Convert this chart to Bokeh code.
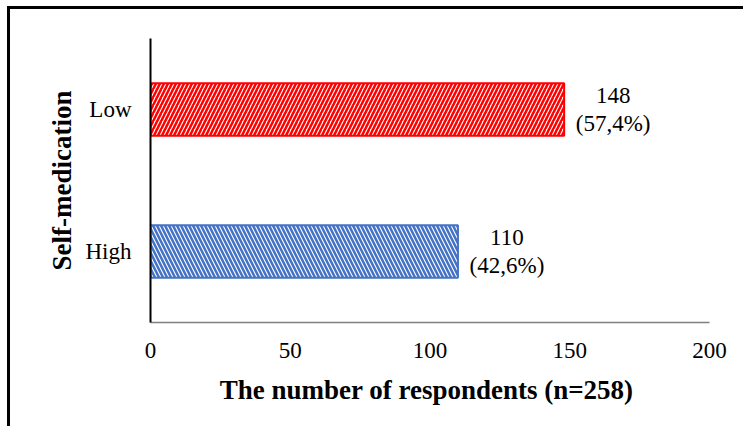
from bokeh.plotting import figure
from bokeh.models import ColumnDataSource, FixedTicker, FactorRange, Range1d
from bokeh.core.properties import value
from bokeh.embed import file_html
from bokeh.resources import INLINE

categories = ["High", "Low"]
counts = [110, 148]
percents = ["42,6%", "57,4%"]
bar_colors = ["#4472C4", "#FF0000"]
hatches = ["left_diagonal_line", "right_diagonal_line"]
x_ticks = [0, 50, 100, 150, 200]

labels = [f"{c}\n({p})" for c, p in zip(counts, percents)]
src = ColumnDataSource(dict(cat=categories, cnt=counts, col=bar_colors,
                            hatch=hatches, lab=labels))

p = figure(width=736, height=420, output_backend="svg", toolbar_location=None,
           y_range=FactorRange(*categories, range_padding=0),
           x_range=Range1d(0, 200),
           min_border_left=140, min_border_right=37, min_border_top=29,
           min_border_bottom=107)
p.styles = {"margin-left": "7px", "margin-top": "6px",
            "border-top": "3px solid black", "border-left": "3px solid black"}
p.outline_line_color = None
p.xgrid.grid_line_color = None
p.ygrid.grid_line_color = None

p.hbar(y="cat", right="cnt", left=0, height=0.37, source=src,
       fill_color="white", line_color="col", line_width=2,
       hatch_pattern="hatch", hatch_color="col", hatch_scale=8, hatch_weight=2.5)

p.text(x="cnt", y="cat", text="lab", source=src, x_offset=49,
       text_align="center", text_baseline="middle",
       text_font=value("Liberation Serif"), text_font_size="23px",
       text_color="black", text_line_height=1.15)

xa = p.xaxis[0]
xa.ticker = FixedTicker(ticks=x_ticks)
xa.axis_line_color = "#7f7f7f"
xa.axis_line_width = 1.5
xa.major_tick_line_color = None
xa.minor_tick_line_color = None
xa.major_label_text_font = "Liberation Serif"
xa.major_label_text_font_size = "23px"
xa.major_label_text_color = "black"
xa.major_label_standoff = 14
xa.axis_label = "The number  of respondents (n=258)"
xa.axis_label_text_font = "Liberation Serif"
xa.axis_label_text_font_style = "bold"
xa.axis_label_text_font_size = "27px"
xa.axis_label_text_color = "black"
xa.axis_label_standoff = 14

ya = p.yaxis[0]
ya.axis_line_color = "black"
ya.axis_line_width = 2
ya.major_tick_line_color = None
ya.minor_tick_line_color = None
ya.major_label_text_font = "Liberation Serif"
ya.major_label_text_font_size = "23px"
ya.major_label_text_color = "black"
ya.major_label_standoff = 13
ya.axis_label = "Self-medication"
ya.axis_label_text_font = "Liberation Serif"
ya.axis_label_text_font_style = "bold"
ya.axis_label_text_font_size = "27px"
ya.axis_label_text_color = "black"
ya.axis_label_standoff = 6

open("out.html", "w").write(file_html(p, INLINE))
